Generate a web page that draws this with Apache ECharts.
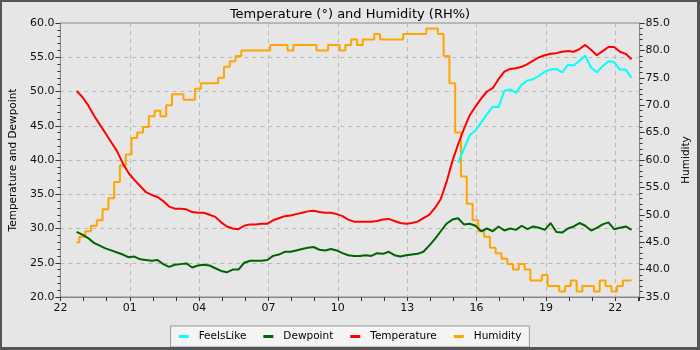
<!DOCTYPE html>
<html>
<head>
<meta charset="utf-8">
<script src="https://cdn.jsdelivr.net/npm/echarts@6/dist/echarts.min.js"></script>
<style>
html,body{margin:0;padding:0;background:#e6e6e6;}
#wrap{position:relative;width:700px;height:350px;}
#chart{position:absolute;left:0;top:0;width:700px;height:350px;}
#frame{position:absolute;left:0;top:0;width:700px;height:350px;box-sizing:border-box;border:2px solid #555;border-right-width:3px;border-bottom-width:3px;pointer-events:none;}
</style>
</head>
<body>
<div id="wrap"><div id="chart"></div><div id="frame"></div></div>
<script>
// time: hours after 22:00 of the first day
const startHour = 0.7;
const stepHours = 0.25;
const seriesNames = ['FeelsLike', 'Dewpoint', 'Temperature', 'Humidity'];

const temperature = [50.1,49.2,48.0,46.5,45.2,43.9,42.6,41.3,39.5,38.1,
  37.1,36.2,35.3,34.9,34.6,34.0,33.2,32.9,32.9,32.8,
  32.4,32.3,32.3,32.0,31.7,30.9,30.3,30.0,29.9,30.4,
  30.6,30.6,30.7,30.7,31.2,31.5,31.8,31.9,32.1,32.3,
  32.5,32.6,32.4,32.3,32.3,32.1,31.8,31.3,31.0,31.0,
  31.0,31.0,31.1,31.3,31.4,31.1,30.8,30.7,30.8,31.0,
  31.5,32.0,33.0,34.3,36.8,39.8,42.3,44.5,46.5,47.8,
  49.0,50.0,50.5,51.8,52.9,53.3,53.4,53.6,54.0,54.5,
  55.0,55.3,55.5,55.6,55.8,55.9,55.8,56.2,56.8,56.1,
  55.3,55.9,56.5,56.5,55.8,55.5,54.7];

const dewpoint = [29.5,29.1,28.6,27.9,27.5,27.1,26.8,26.5,26.2,25.8,
  25.9,25.5,25.4,25.3,25.4,24.8,24.4,24.7,24.8,24.9,
  24.3,24.6,24.7,24.6,24.2,23.8,23.6,24.0,24.0,25.0,
  25.3,25.3,25.3,25.4,26.0,26.2,26.6,26.6,26.8,27.0,
  27.2,27.3,26.9,26.8,27.0,26.8,26.4,26.1,26.0,26.0,
  26.1,26.0,26.4,26.3,26.6,26.1,25.9,26.1,26.2,26.3,
  26.6,27.5,28.5,29.6,30.7,31.3,31.5,30.6,30.7,30.4,
  29.6,30.0,29.6,30.3,29.7,30.0,29.8,30.4,29.9,30.3,
  30.1,29.8,30.8,29.5,29.4,30.0,30.3,30.8,30.4,29.7,
  30.1,30.6,30.9,29.9,30.1,30.3,29.8];

const humidity = [45,46,47,48,49,51,53,56,59,61,
  64,65,66,68,69,68,70,72,72,71,
  71,73,74,74,74,75,77,78,79,80,
  80,80,80,80,81,81,81,80,81,81,
  81,81,80,80,81,81,80,81,82,81,
  82,82,83,82,82,82,82,83,83,83,
  83,84,84,83,79,74,65,57,52,49,
  47,46,44,43,42,41,40,41,40,38,
  38,39,37,37,36,37,38,36,37,37,
  36,38,37,36,37,38,38];

// FeelsLike only reported from sample index 66 on
const feelsLikeStartIndex = 66;
const feelsLike = [39.6,41.6,43.6,44.3,45.5,46.7,47.8,47.7,50.1,50.3,
  49.8,51.0,51.6,51.8,52.3,52.9,53.2,53.3,52.8,53.9,
  53.8,54.5,55.2,53.5,52.8,53.7,54.4,54.3,53.2,53.2,52.0];

const xTickLabels = ['22','01','04','07','10','13','16','19','22'];

function pairs(arr, offset) {
  return arr.map((v, i) => [startHour + (i + offset) * stepHours, v]);
}

const FONT = 'DejaVu Sans';
const chart = echarts.init(document.getElementById('chart'), null, {renderer: 'canvas'});

const yAxisCommon = {
  type: 'value',
  interval: 5,
  nameLocation: 'middle',
  nameRotate: 90,
  nameTextStyle: {fontFamily: FONT, fontSize: 10.5, color: '#000'},
  axisLine: {show: true, lineStyle: {color: '#888'}},
  axisTick: {show: true, length: 5, lineStyle: {color: '#333'}},
  minorTick: {show: true, splitNumber: 5, length: 3, lineStyle: {color: '#333'}},
  axisLabel: {fontFamily: FONT, fontSize: 11, color: '#111', margin: 6, formatter: v => v.toFixed(1)},
};

const option = {
  backgroundColor: '#e6e6e6',
  animation: false,
  title: {
    text: 'Temperature (°) and Humidity (RH%)',
    left: 'center', top: 3,
    textStyle: {fontFamily: FONT, fontSize: 13, fontWeight: 'normal', color: '#000'}
  },
  legend: {
    data: seriesNames,
    bottom: 3, left: 'center',
    backgroundColor: '#f4f4f4', borderColor: '#999', borderWidth: 1, borderRadius: 0,
    padding: [5, 8, 5, 8],
    itemGap: 17, itemWidth: 10, itemHeight: 3, icon: 'rect',
    textStyle: {fontFamily: FONT, fontSize: 10.5, color: '#000', padding: [0, 0, 0, 5]}
  },
  grid: {left: 55, right: 59, top: 23, bottom: 53, show: true, borderColor: '#888', borderWidth: 1, backgroundColor: 'transparent'},
  xAxis: {
    type: 'value', min: 0, max: 25.05, interval: 3,
    axisLine: {show: true, lineStyle: {color: '#888'}},
    axisTick: {show: true, length: 4, lineStyle: {color: '#333'}},
    minorTick: {show: true, splitNumber: 3, length: 4, lineStyle: {color: '#333'}},
    axisLabel: {fontFamily: FONT, fontSize: 11, color: '#111', margin: 6, showMaxLabel: false,
      formatter: v => { const k = Math.round(v / 3); return (Math.abs(v - k * 3) < 1e-6 && k < xTickLabels.length) ? xTickLabels[k] : ''; }},
    splitLine: {show: true, lineStyle: {color: '#b8b8b8', type: [4, 4]}}
  },
  yAxis: [
    Object.assign({}, yAxisCommon, {
      min: 20, max: 60, position: 'left',
      name: 'Temperature and Dewpoint', nameGap: 27,
      splitLine: {show: true, lineStyle: {color: '#b8b8b8', type: [4, 4]}}
    }),
    Object.assign({}, yAxisCommon, {
      min: 35, max: 85, position: 'right',
      name: 'Humidity', nameGap: 28,
      splitLine: {show: false}
    })
  ],
  series: [
    {name: 'Humidity', type: 'line', yAxisIndex: 1, step: 'middle', data: pairs(humidity, 0),
      showSymbol: false, lineStyle: {width: 2, color: '#ffa500'}, itemStyle: {color: '#ffa500'}},
    {name: 'FeelsLike', type: 'line', yAxisIndex: 0, data: pairs(feelsLike, feelsLikeStartIndex),
      showSymbol: false, lineStyle: {width: 2, color: '#00ffff'}, itemStyle: {color: '#00ffff'}},
    {name: 'Dewpoint', type: 'line', yAxisIndex: 0, data: pairs(dewpoint, 0),
      showSymbol: false, lineStyle: {width: 2, color: '#006400'}, itemStyle: {color: '#006400'}},
    {name: 'Temperature', type: 'line', yAxisIndex: 0, data: pairs(temperature, 0),
      showSymbol: false, lineStyle: {width: 2, color: '#ff0000'}, itemStyle: {color: '#ff0000'}}
  ]
};
chart.setOption(option);
</script>
</body>
</html>
